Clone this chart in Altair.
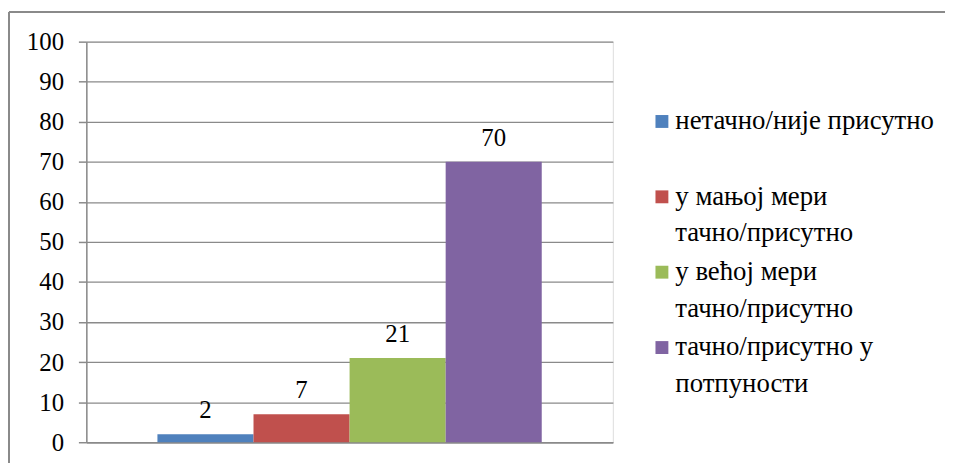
import altair as alt
import pandas as pd

# Data
series = [
    "нетачно/није присутно",
    "у мањој мери\nтачно/присутно",
    "у већој мери\nтачно/присутно",
    "тачно/присутно у\nпотпуности",
]
values = [2, 7, 21, 70]
colors = ["#4F81BD", "#C0504D", "#9BBB59", "#8064A2"]
y_ticks = [0, 10, 20, 30, 40, 50, 60, 70, 80, 90, 100]

df = pd.DataFrame({"series": series, "value": values})

FONT = "Liberation Serif"
GRID = "#8a8a8a"
W, H = 531, 404

x_enc = alt.X(
    "series:N",
    sort=series,
    scale=alt.Scale(domain=series, paddingInner=0, paddingOuter=0.74),
    axis=alt.Axis(title=None, labels=False, ticks=False, domain=True,
                  domainColor=GRID, domainWidth=1.5),
)
y_enc = alt.Y(
    "value:Q",
    scale=alt.Scale(domain=[0, 100], nice=False),
    axis=alt.Axis(
        title=None, values=y_ticks, grid=True, gridColor=GRID, gridWidth=1.3,
        domainColor=GRID, domainWidth=1.5, tickColor=GRID, tickSize=8, tickWidth=1.5,
        labelFont=FONT, labelFontSize=25, labelColor="black", labelPadding=15,
    ),
)

bars = alt.Chart(df).mark_bar(stroke=None).encode(
    x=x_enc,
    y=y_enc,
    color=alt.Color(
        "series:N",
        sort=series,
        scale=alt.Scale(domain=series, range=colors),
        legend=alt.Legend(
            title=None, orient="none", legendX=567, legendY=67,
            symbolType="square", symbolSize=169, symbolStrokeWidth=0,
            labelFont=FONT, labelFontSize=27, labelColor="black",
            labelOffset=0, labelLimit=400, rowPadding=11, padding=0,
            labelExpr="indexof(datum.label, '\\n') < 0 ? [datum.label, ''] : split(datum.label, '\\n')",
        ),
    ),
)

labels = alt.Chart(df).mark_text(
    font=FONT, fontSize=25, color="black", baseline="alphabetic", dy=-16
).encode(
    x=alt.X("series:N", sort=series),
    y="value:Q",
    text="value:Q",
)

border_top = alt.Chart(df).mark_rule(color=GRID, strokeWidth=2, clip=False).encode(
    x=alt.value(-78), x2=alt.value(W + 400), y=alt.value(-30)
)
border_left = alt.Chart(df).mark_rule(color=GRID, strokeWidth=2, clip=False).encode(
    x=alt.value(-78), y=alt.value(-30), y2=alt.value(H + 100)
)

chart = alt.layer(border_top, border_left, bars, labels).properties(
    width=W, height=H,
    autosize=alt.AutoSizeParams(type="none"),
    padding={"left": 79, "top": 32, "right": 335, "bottom": 19},
).configure_view(stroke=None).configure(
    style={"guide-label": {"lineHeight": 37}},
)

chart.save("out.html", embed_options={"renderer": "svg", "actions": False})
